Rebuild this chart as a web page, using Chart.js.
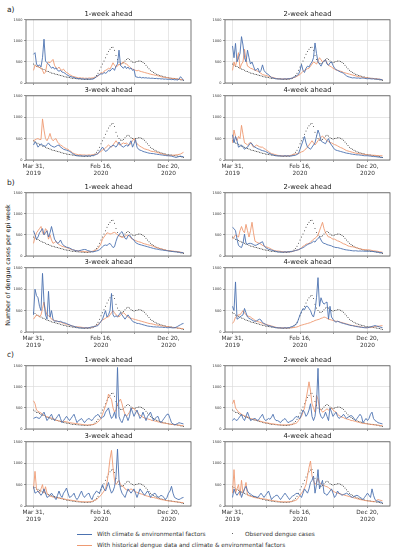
<!DOCTYPE html>
<html>
<head>
<meta charset="utf-8">
<script src="https://cdn.jsdelivr.net/npm/chart.js@4"></script>
<style>
  html, body { margin: 0; padding: 0; background: #fff; }
  body { width: 397px; height: 550px; position: relative; overflow: hidden; font-family: "DejaVu Sans", sans-serif; color: #222; }
  canvas { position: absolute; }
  .tag { position: absolute; font-size: 7.5px; line-height: 8px; }
  .ylabel { position: absolute; left: 7px; top: 265px; font-size: 6.3px; white-space: nowrap; transform: translate(-50%, -50%) rotate(-90deg); }
  .leg { position: absolute; font-size: 5.8px; line-height: 8px; white-space: nowrap; color: #333; }
  .swatch { position: absolute; width: 15px; height: 1px; }
  .dot { position: absolute; width: 1.4px; height: 1.4px; border-radius: 50%; background: #333; }
</style>
</head>
<body>
<div class="tag" style="left:7px;top:6px">a)</div>
<div class="tag" style="left:7px;top:179px">b)</div>
<div class="tag" style="left:7px;top:351px">c)</div>
<div class="ylabel">Number of dengue cases per epi week</div>

<div class="swatch" style="left:77px;top:534px;background:#4c72b0"></div>
<div class="leg" style="left:97px;top:530px">With climate &amp; environmental factors</div>
<div class="dot" style="left:232px;top:533px"></div>
<div class="leg" style="left:245px;top:530px">Observed dengue cases</div>
<div class="swatch" style="left:77px;top:545px;background:#ee9a72"></div>
<div class="leg" style="left:97px;top:541px">With historical dengue data and climate &amp; environmental factors</div>

<script>
// weekly values, week 0 = Mar 31 2019
const observed = [
  450, 430, 400, 390, 370, 350, 330, 320, 300, 280,
  270, 255, 240, 230, 220, 210, 200, 190, 180, 170,
  160, 150, 140, 135, 130, 120, 115, 110, 105, 100,
  100, 95, 95, 90, 90, 85, 85, 90, 95, 100,
  115, 140, 180, 230, 300, 380, 450, 520, 600, 680,
  750, 800, 840, 850, 780, 650, 560, 500, 470, 460,
  480, 520, 560, 580, 560, 520, 500, 490, 500, 510,
  520, 520, 510, 490, 460, 420, 380, 340, 300, 270,
  250, 230, 210, 195, 180, 170, 160, 150, 140, 130,
  125, 120, 115, 110, 105, 100, 95, 90, 80, 70, 60
];

// a) 1-week
const a1Climate = [
  680, 720, 450, 400, 430, 380, 600, 1040, 520, 480,
  450, 400, 350, 380, 330, 360, 300, 280, 300, 260,
  250, 230, 200, 180, 160, 150, 140, 130, 120, 110,
  100, 110, 95, 100, 90, 95, 100, 90, 95, 90,
  100, 120, 150, 180, 200, 220, 210, 250, 230, 250,
  300, 280, 330, 350, 300, 400, 450, 780, 420, 380,
  350, 400, 340, 380, 330, 360, 300, 320, 150, 140,
  130, 140, 120, 130, 120, 125, 115, 120, 110, 115,
  110, 105, 110, 100, 105, 95, 100, 90, 95, 90,
  85, 90, 80, 85, 75, 80, 70, 90, 150, 110, 60
];
const a1Historical = [
  300, 420, 400, 380, 370, 360, 300, 220, 260, 450,
  500, 480, 520, 560, 420, 360, 340, 380, 320, 300,
  330, 280, 250, 230, 200, 180, 160, 150, 140, 130,
  120, 125, 115, 120, 110, 115, 110, 120, 115, 120,
  125, 130, 150, 160, 200, 250, 230, 280, 300, 320,
  350, 330, 400, 480, 420, 380, 400, 450, 420, 480,
  500, 460, 450, 420, 380, 350, 330, 320, 300, 290,
  300, 280, 270, 260, 250, 240, 230, 220, 210, 200,
  195, 185, 180, 170, 160, 150, 140, 135, 130, 125,
  120, 115, 110, 105, 100, 100, 95, 90, 85, 80, 80
];
// a) 3-week
const a2Climate = [
  350, 420, 380, 300, 340, 380, 350, 330, 320, 360,
  400, 350, 330, 310, 300, 320, 340, 350, 300, 280,
  250, 240, 230, 220, 200, 180, 150, 130, 110, 100,
  100, 95, 100, 90, 95, 100, 95, 100, 90, 110,
  100, 120, 130, 150, 200, 250, 300, 250, 200, 220,
  250, 300, 320, 350, 330, 300, 350, 420, 350, 320,
  300, 330, 350, 320, 380, 450, 300, 380, 480, 300,
  250, 230, 220, 200, 190, 180, 170, 160, 155, 150,
  150, 140, 135, 130, 125, 120, 115, 110, 105, 100,
  100, 95, 90, 80, 70, 60, 70, 80, 90, 80, 80
];
const a2Historical = [
  450, 470, 490, 500, 480, 480, 960, 700, 500, 450,
  520, 620, 500, 450, 480, 500, 420, 380, 350, 330,
  300, 280, 260, 250, 220, 200, 170, 150, 140, 130,
  120, 125, 120, 115, 120, 110, 115, 120, 115, 120,
  125, 130, 140, 150, 180, 200, 230, 250, 280, 320,
  350, 320, 300, 350, 400, 450, 400, 360, 350, 380,
  400, 380, 400, 360, 350, 400, 450, 500, 420, 380,
  350, 320, 300, 280, 260, 250, 240, 230, 210, 200,
  200, 190, 180, 170, 160, 150, 140, 130, 120, 110,
  100, 105, 110, 110, 115, 120, 125, 130, 140, 160, 180
];
// a) 2-week
const a3Climate = [
  880, 600, 940, 500, 600, 700, 1100, 900, 600, 500,
  780, 600, 450, 500, 400, 300, 320, 350, 250, 300,
  430, 300, 250, 220, 200, 160, 130, 120, 110, 100,
  100, 95, 100, 90, 95, 100, 95, 100, 105, 110,
  120, 140, 150, 180, 200, 300, 440, 300, 250, 350,
  400, 380, 450, 500, 600, 950, 700, 500, 450, 400,
  480, 520, 550, 450, 420, 480, 500, 420, 350, 320,
  300, 280, 260, 250, 230, 200, 170, 150, 140, 130,
  120, 125, 120, 115, 120, 110, 115, 120, 110, 105,
  100, 105, 100, 95, 100, 90, 95, 85, 90, 80, 80
];
const a3Historical = [
  300, 500, 400, 550, 720, 350, 450, 500, 800, 550,
  400, 380, 350, 340, 320, 300, 290, 280, 250, 230,
  200, 190, 180, 170, 160, 150, 140, 130, 120, 110,
  100, 105, 100, 95, 100, 95, 100, 105, 100, 110,
  120, 130, 140, 160, 180, 200, 240, 280, 300, 320,
  340, 350, 400, 450, 500, 480, 450, 520, 600, 550,
  500, 520, 550, 480, 420, 400, 380, 350, 330, 310,
  300, 290, 280, 270, 250, 240, 230, 220, 210, 200,
  190, 180, 170, 160, 150, 150, 140, 130, 130, 120,
  120, 115, 110, 110, 105, 100, 100, 95, 90, 85, 80
];
// a) 4-week
const a4Climate = [
  590, 400, 550, 450, 300, 320, 350, 300, 250, 280,
  300, 350, 400, 380, 320, 300, 280, 260, 250, 230,
  220, 210, 200, 180, 160, 150, 130, 120, 110, 100,
  100, 95, 100, 90, 95, 100, 95, 100, 90, 95,
  100, 105, 110, 130, 150, 250, 350, 450, 550, 400,
  300, 280, 250, 300, 350, 400, 550, 700, 600, 450,
  420, 400, 380, 450, 500, 400, 350, 300, 250, 230,
  220, 210, 200, 190, 180, 170, 160, 155, 150, 140,
  135, 130, 125, 120, 120, 115, 110, 105, 100, 100,
  100, 95, 90, 85, 80, 80, 75, 70, 65, 60, 60
];
const a4Historical = [
  400, 700, 550, 450, 550, 500, 810, 600, 400, 380,
  350, 380, 420, 350, 300, 320, 350, 330, 310, 300,
  300, 270, 250, 220, 200, 170, 150, 140, 130, 120,
  110, 105, 100, 100, 95, 100, 95, 100, 105, 110,
  120, 130, 140, 145, 150, 170, 190, 200, 230, 260,
  300, 350, 400, 450, 400, 350, 400, 450, 500, 530,
  560, 520, 480, 450, 430, 410, 400, 380, 360, 350,
  330, 310, 290, 280, 260, 240, 220, 210, 200, 190,
  180, 170, 160, 155, 150, 145, 140, 135, 130, 125,
  120, 115, 115, 110, 110, 110, 105, 105, 100, 100, 100
];

// b) 1-week
const b1Climate = [
  600, 500, 400, 450, 550, 600, 650, 500, 550, 600,
  450, 550, 700, 550, 400, 350, 300, 320, 380, 300,
  250, 230, 210, 200, 190, 170, 150, 140, 130, 120,
  120, 130, 140, 150, 155, 150, 130, 120, 110, 100,
  100, 110, 120, 130, 150, 180, 220, 250, 260, 250,
  280, 300, 250, 200, 220, 350, 450, 500, 550, 580,
  500, 420, 400, 480, 500, 450, 400, 380, 320, 300,
  280, 270, 260, 250, 240, 230, 220, 210, 200, 190,
  180, 170, 165, 160, 150, 145, 140, 135, 130, 125,
  120, 115, 110, 105, 100, 100, 95, 90, 85, 80, 80
];
const b1Historical = [
  300, 450, 550, 600, 650, 700, 550, 500, 650, 600,
  400, 500, 380, 300, 320, 350, 300, 270, 250, 230,
  220, 210, 200, 190, 170, 160, 150, 140, 130, 125,
  120, 115, 110, 110, 105, 100, 100, 100, 105, 110,
  120, 130, 150, 180, 230, 300, 400, 450, 500, 550,
  540, 520, 530, 550, 560, 540, 500, 480, 460, 440,
  450, 470, 490, 500, 470, 420, 400, 380, 370, 350,
  340, 330, 320, 300, 290, 280, 270, 260, 250, 240,
  230, 210, 200, 190, 180, 170, 160, 150, 140, 130,
  130, 125, 120, 115, 110, 110, 105, 100, 90, 85, 80
];
// b) 3-week
const b2Climate = [
  400, 1000, 850, 800, 600, 500, 1370, 700, 400, 300,
  950, 350, 500, 300, 250, 260, 250, 240, 250, 230,
  220, 210, 200, 180, 170, 150, 140, 130, 120, 110,
  100, 95, 100, 90, 95, 100, 95, 100, 110, 120,
  120, 130, 140, 150, 200, 250, 300, 400, 500, 350,
  400, 500, 900, 400, 350, 380, 350, 400, 450, 400,
  350, 300, 350, 400, 350, 300, 250, 230, 220, 200,
  200, 190, 180, 170, 160, 150, 140, 135, 130, 125,
  120, 120, 115, 120, 110, 115, 110, 105, 110, 100,
  100, 105, 100, 95, 100, 110, 130, 150, 170, 190, 200
];
const b2Historical = [
  300, 350, 400, 380, 350, 400, 550, 700, 500, 400,
  380, 350, 300, 280, 270, 260, 250, 240, 230, 220,
  200, 190, 180, 170, 160, 150, 140, 130, 125, 120,
  120, 115, 110, 105, 100, 100, 100, 105, 100, 110,
  120, 130, 150, 180, 200, 250, 280, 300, 320, 350,
  350, 400, 450, 500, 450, 400, 380, 350, 400, 430,
  450, 420, 380, 350, 330, 320, 310, 300, 290, 280,
  270, 260, 250, 240, 230, 220, 210, 200, 195, 190,
  180, 170, 165, 160, 150, 145, 140, 135, 130, 125,
  120, 115, 110, 105, 100, 100, 95, 90, 85, 80, 80
];
// b) 2-week
const b3Climate = [
  680, 650, 600, 400, 250, 220, 200, 300, 520, 300,
  280, 300, 300, 290, 270, 250, 260, 280, 300, 320,
  340, 250, 200, 180, 160, 150, 140, 130, 120, 110,
  100, 95, 100, 90, 95, 100, 95, 100, 105, 110,
  110, 120, 130, 140, 150, 170, 180, 200, 220, 250,
  270, 290, 300, 320, 350, 330, 380, 420, 450, 380,
  320, 300, 290, 270, 260, 250, 240, 220, 210, 200,
  200, 190, 180, 170, 160, 150, 145, 140, 135, 130,
  125, 120, 125, 120, 115, 120, 115, 120, 110, 115,
  110, 120, 115, 110, 105, 100, 95, 90, 85, 80, 80
];
const b3Historical = [
  400, 450, 500, 480, 450, 600, 700, 600, 550, 750,
  600, 450, 600, 800, 550, 350, 330, 310, 300, 280,
  250, 240, 220, 210, 200, 180, 160, 140, 130, 120,
  120, 115, 110, 105, 100, 100, 100, 105, 100, 100,
  110, 120, 130, 140, 150, 160, 200, 230, 250, 280,
  290, 300, 330, 360, 400, 420, 450, 500, 600, 700,
  800, 650, 550, 500, 450, 450, 420, 400, 400, 380,
  360, 350, 330, 310, 290, 280, 260, 240, 230, 220,
  220, 210, 200, 190, 180, 170, 160, 155, 150, 150,
  150, 145, 140, 130, 125, 120, 115, 110, 100, 95, 90
];
// b) 4-week
const b4Climate = [
  600, 500, 1170, 300, 320, 350, 380, 400, 550, 450,
  350, 320, 300, 280, 260, 250, 260, 280, 300, 280,
  220, 200, 180, 160, 150, 140, 130, 120, 110, 100,
  100, 95, 100, 90, 95, 100, 95, 100, 105, 120,
  130, 150, 170, 200, 300, 400, 480, 550, 520, 600,
  600, 550, 500, 400, 350, 500, 800, 1270, 600, 800,
  700, 650, 680, 700, 300, 600, 350, 300, 250, 230,
  250, 240, 220, 210, 200, 190, 180, 170, 160, 150,
  150, 140, 130, 125, 120, 115, 110, 105, 100, 100,
  100, 110, 120, 130, 140, 150, 140, 130, 120, 110, 100
];
const b4Historical = [
  200, 250, 350, 380, 400, 400, 450, 500, 450, 400,
  380, 360, 350, 320, 300, 270, 250, 240, 230, 220,
  200, 190, 180, 170, 160, 150, 140, 130, 120, 110,
  100, 100, 95, 100, 95, 100, 95, 100, 100, 100,
  100, 105, 110, 120, 130, 150, 160, 170, 180, 190,
  200, 210, 220, 240, 250, 270, 280, 290, 300, 320,
  330, 350, 340, 320, 300, 290, 280, 270, 260, 250,
  250, 240, 230, 220, 210, 200, 190, 180, 170, 160,
  150, 145, 140, 135, 130, 120, 115, 110, 105, 100,
  100, 105, 110, 115, 120, 125, 130, 135, 140, 145, 150
];

// c) 1-week
const c1Climate = [
  250, 270, 280, 260, 250, 300, 350, 400, 300, 200,
  250, 300, 350, 250, 200, 250, 300, 350, 250, 150,
  200, 250, 300, 250, 200, 250, 300, 350, 250, 150,
  200, 220, 250, 200, 150, 200, 230, 250, 220, 200,
  250, 300, 320, 350, 300, 250, 280, 300, 400, 450,
  500, 350, 250, 300, 400, 250, 1460, 300, 200, 150,
  250, 350, 300, 200, 300, 500, 400, 300, 380, 450,
  350, 250, 300, 400, 300, 200, 300, 350, 400, 300,
  200, 250, 280, 300, 200, 150, 200, 250, 300, 350,
  350, 250, 150, 120, 100, 110, 130, 150, 140, 130, 120
];
const c1Historical = [
  670, 600, 450, 420, 400, 380, 350, 330, 300, 290,
  280, 270, 260, 250, 230, 210, 200, 190, 185, 180,
  180, 175, 170, 160, 150, 145, 140, 135, 130, 125,
  120, 115, 110, 105, 100, 100, 95, 100, 100, 105,
  110, 120, 140, 170, 200, 260, 350, 450, 550, 650,
  830, 750, 700, 500, 400, 450, 600, 650, 710, 600,
  450, 350, 300, 350, 400, 480, 500, 480, 450, 400,
  350, 330, 300, 280, 260, 250, 240, 230, 220, 200,
  200, 190, 180, 170, 160, 150, 145, 140, 135, 130,
  120, 115, 110, 105, 100, 100, 95, 90, 85, 80, 80
];
// c) 3-week
const c2Climate = [
  450, 300, 320, 350, 300, 250, 300, 400, 300, 200,
  220, 250, 300, 250, 200, 150, 250, 350, 250, 200,
  300, 350, 420, 300, 200, 220, 250, 300, 200, 150,
  200, 280, 350, 250, 200, 250, 280, 300, 200, 150,
  250, 300, 350, 320, 300, 400, 500, 400, 350, 450,
  550, 400, 300, 350, 450, 700, 1330, 600, 400, 300,
  250, 200, 300, 400, 350, 300, 350, 400, 300, 200,
  300, 400, 350, 300, 250, 300, 350, 300, 200, 250,
  280, 300, 250, 200, 220, 250, 230, 200, 150, 200,
  300, 350, 460, 300, 200, 180, 160, 150, 170, 190, 200
];
const c2Historical = [
  400, 810, 400, 350, 300, 400, 500, 300, 450, 300,
  250, 230, 220, 210, 200, 195, 190, 185, 180, 175,
  170, 160, 150, 145, 140, 135, 130, 125, 120, 115,
  110, 105, 100, 100, 100, 95, 100, 100, 100, 105,
  120, 140, 150, 180, 220, 250, 300, 350, 400, 550,
  800, 1100, 1300, 900, 600, 500, 550, 600, 500, 470,
  450, 400, 380, 350, 380, 400, 380, 350, 330, 320,
  300, 290, 280, 270, 250, 240, 230, 220, 210, 200,
  200, 190, 180, 170, 160, 150, 145, 140, 130, 125,
  120, 115, 110, 105, 100, 100, 95, 90, 85, 80, 80
];
// c) 2-week
const c3Climate = [
  200, 250, 220, 200, 250, 300, 350, 250, 200, 300,
  400, 300, 200, 220, 240, 250, 220, 200, 250, 300,
  350, 250, 200, 220, 250, 230, 280, 350, 250, 200,
  200, 180, 150, 200, 220, 250, 200, 150, 170, 190,
  200, 250, 280, 300, 260, 250, 350, 450, 400, 300,
  350, 450, 600, 300, 200, 300, 600, 1440, 400, 300,
  250, 300, 400, 300, 200, 500, 400, 300, 350, 400,
  300, 250, 280, 300, 350, 300, 250, 280, 300, 320,
  300, 250, 200, 250, 300, 350, 300, 150, 200, 250,
  200, 250, 350, 400, 250, 200, 180, 150, 140, 130, 120
];
const c3Historical = [
  600, 690, 500, 450, 400, 380, 350, 330, 310, 300,
  290, 270, 250, 240, 230, 220, 210, 200, 190, 180,
  170, 160, 150, 145, 140, 130, 125, 120, 115, 110,
  105, 100, 100, 95, 100, 95, 100, 100, 105, 110,
  115, 120, 130, 150, 200, 250, 300, 400, 500, 700,
  900, 1120, 900, 600, 500, 400, 800, 700, 500, 450,
  400, 420, 450, 480, 450, 470, 500, 450, 420, 400,
  350, 320, 300, 280, 270, 250, 240, 230, 220, 200,
  200, 190, 180, 170, 160, 150, 140, 135, 130, 125,
  120, 115, 110, 105, 100, 100, 95, 90, 85, 80, 80
];
// c) 4-week
const c4Climate = [
  200, 400, 300, 250, 300, 350, 200, 300, 400, 460,
  350, 300, 280, 250, 230, 220, 210, 200, 250, 300,
  250, 200, 250, 300, 350, 250, 150, 200, 220, 250,
  250, 200, 150, 200, 250, 300, 250, 200, 150, 200,
  230, 250, 280, 300, 280, 250, 200, 300, 400, 350,
  300, 400, 550, 600, 700, 300, 500, 850, 400, 500,
  600, 300, 280, 250, 300, 350, 400, 300, 200, 250,
  350, 300, 280, 250, 270, 280, 300, 280, 250, 220,
  200, 220, 240, 250, 230, 200, 180, 150, 200, 250,
  300, 250, 200, 400, 250, 150, 120, 110, 100, 90, 80
];
const c4Historical = [
  300, 850, 300, 400, 500, 250, 600, 300, 400, 550,
  250, 240, 230, 220, 200, 195, 190, 185, 180, 175,
  170, 165, 160, 150, 145, 140, 130, 125, 120, 115,
  110, 105, 100, 100, 95, 100, 95, 100, 100, 105,
  110, 120, 130, 150, 200, 250, 300, 350, 420, 500,
  700, 900, 1050, 700, 600, 500, 550, 650, 550, 520,
  500, 480, 460, 450, 430, 400, 380, 350, 330, 310,
  300, 290, 280, 270, 260, 250, 240, 230, 220, 210,
  200, 190, 180, 170, 160, 150, 145, 140, 130, 125,
  120, 115, 110, 105, 100, 110, 130, 150, 140, 130, 120
];

const xGridWeeks = [0, 22.5, 45, 67.5, 90];
const xTickLabels = { 0: ['Mar 31,', '2019'], 45: ['Feb 16,', '2020'], 90: ['Dec 20,', '2020'] };

(() => {
    'use strict';

    const BLUE = '#4c72b0';
    const ORANGE = '#ee9a72';
    const TITLE_H = 10;
    const Y_W = 24;
    const PAD_R = 3;
    const BOX_W = 166;
    const BOX_H = 64;

    const LEFT = 26;
    const RIGHT = 225;
    const panels = [
        { title: '1-week ahead', left: LEFT, top: 20, bottom: false, climate: a1Climate, historical: a1Historical },
        { title: '3-week ahead', left: LEFT, top: 96, bottom: true, climate: a2Climate, historical: a2Historical },
        { title: '2-week ahead', left: RIGHT, top: 20, bottom: false, climate: a3Climate, historical: a3Historical },
        { title: '4-week ahead', left: RIGHT, top: 96, bottom: true, climate: a4Climate, historical: a4Historical },
        { title: '1-week ahead', left: LEFT, top: 193, bottom: false, climate: b1Climate, historical: b1Historical },
        { title: '3-week ahead', left: LEFT, top: 268, bottom: true, climate: b2Climate, historical: b2Historical },
        { title: '2-week ahead', left: RIGHT, top: 193, bottom: false, climate: b3Climate, historical: b3Historical },
        { title: '4-week ahead', left: RIGHT, top: 268, bottom: true, climate: b4Climate, historical: b4Historical },
        { title: '1-week ahead', left: LEFT, top: 366, bottom: false, climate: c1Climate, historical: c1Historical },
        { title: '3-week ahead', left: LEFT, top: 442, bottom: true, climate: c2Climate, historical: c2Historical },
        { title: '2-week ahead', left: RIGHT, top: 366, bottom: false, climate: c3Climate, historical: c3Historical },
        { title: '4-week ahead', left: RIGHT, top: 442, bottom: true, climate: c4Climate, historical: c4Historical },
    ];

    const toPoints = (values) => values.map((y, x) => ({ x, y }));

    const frame = {
        id: 'frame',
        afterDraw(chart) {
            const { ctx, chartArea: a } = chart;
            ctx.save();
            ctx.strokeStyle = '#555';
            ctx.lineWidth = 0.8;
            ctx.strokeRect(a.left, a.top, a.right - a.left, a.bottom - a.top);
            ctx.restore();
        },
    };

    const grid = {
        color: '#d6d6d6',
        lineWidth: 0.6,
        tickColor: '#555',
        tickLength: 2,
    };

    const makeChart = (p) => {
        const xH = p.bottom ? 20 : 3;
        const canvas = document.createElement('canvas');
        canvas.width = Y_W + BOX_W + PAD_R;
        canvas.height = TITLE_H + BOX_H + xH;
        canvas.style.left = (p.left - Y_W) + 'px';
        canvas.style.top = (p.top - TITLE_H) + 'px';
        document.body.appendChild(canvas);

        new Chart(canvas, {
            type: 'line',
            data: {
                datasets: [
                    {
                        label: 'With climate & environmental factors',
                        data: toPoints(p.climate),
                        borderColor: BLUE,
                        borderWidth: 0.9,
                        pointRadius: 0,
                        tension: 0,
                    },
                    {
                        label: 'With historical dengue data and climate & environmental factors',
                        data: toPoints(p.historical),
                        borderColor: ORANGE,
                        borderWidth: 0.9,
                        pointRadius: 0,
                        tension: 0,
                    },
                    {
                        label: 'Observed dengue cases',
                        data: toPoints(observed),
                        showLine: false,
                        pointRadius: 0.5,
                        pointBorderWidth: 0,
                        pointBackgroundColor: '#3a3a3a',
                    },
                ],
            },
            plugins: [frame],
            options: {
                responsive: false,
                animation: false,
                devicePixelRatio: 1,
                layout: { padding: { left: 0, right: PAD_R, top: 0, bottom: 0 } },
                plugins: {
                    legend: { display: false },
                    tooltip: { enabled: false },
                    title: {
                        display: true,
                        fullSize: false,
                        text: p.title,
                        color: '#222',
                        font: { family: 'DejaVu Sans', size: 6.8, weight: 'normal', lineHeight: 1 },
                        padding: { top: 1, bottom: 2 },
                    },
                },
                scales: {
                    x: {
                        type: 'linear',
                        min: -5,
                        max: 105,
                        afterBuildTicks: (scale) => {
                            scale.ticks = xGridWeeks.map((value) => ({ value }));
                        },
                        afterFit: (scale) => {
                            scale.height = xH;
                        },
                        grid,
                        border: { display: false },
                        ticks: {
                            display: p.bottom,
                            autoSkip: false,
                            maxRotation: 0,
                            padding: 1,
                            color: '#333',
                            font: { family: 'DejaVu Sans', size: 5.8, lineHeight: 1.25 },
                            callback: (value) => xTickLabels[value] || '',
                        },
                    },
                    y: {
                        min: 0,
                        max: 1500,
                        afterFit: (scale) => {
                            scale.width = Y_W;
                        },
                        grid,
                        border: { display: false },
                        ticks: {
                            stepSize: 500,
                            padding: 1.5,
                            color: '#333',
                            font: { family: 'DejaVu Sans', size: 3.5 },
                            callback: (value) => String(value),
                        },
                    },
                },
            },
        });
    };

    panels.forEach(makeChart);
})();
</script>
</body>
</html>
